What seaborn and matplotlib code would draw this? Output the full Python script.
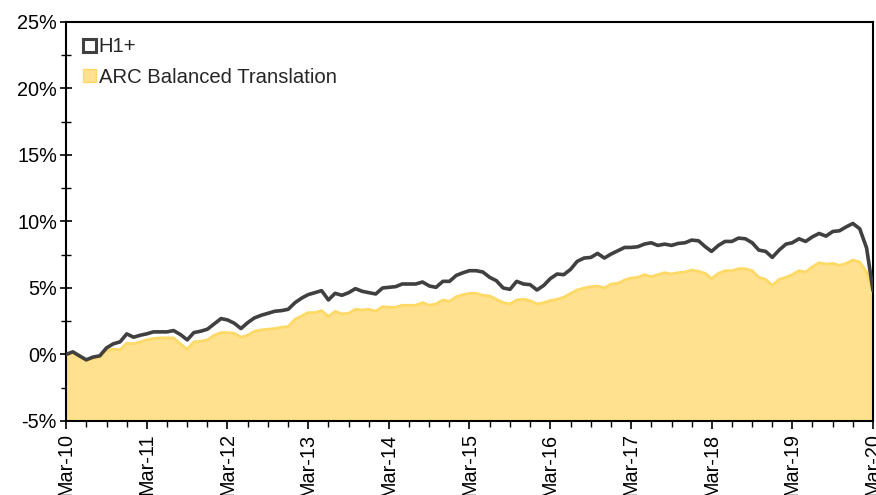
import pandas as pd
import matplotlib
matplotlib.use("Agg")
import matplotlib.pyplot as plt
import matplotlib.dates as mdates
from matplotlib.patches import Patch
from matplotlib.ticker import FuncFormatter, MultipleLocator
import seaborn as sns

# monthly cumulative returns (%), Mar-2010 .. Mar-2020
start_month = "2010-03-01"
h1_plus = [0.0, 0.2, -0.1, -0.4, -0.2, -0.1, 0.5, 0.8, 0.95, 1.55, 1.3, 1.45,
           1.55, 1.7, 1.7, 1.7, 1.8, 1.5, 1.1, 1.65, 1.75, 1.9, 2.3, 2.7,
           2.6, 2.35, 1.95, 2.4, 2.75, 2.95, 3.1, 3.25, 3.3, 3.4, 3.9, 4.25,
           4.5, 4.65, 4.8, 4.1, 4.6, 4.45, 4.65, 4.95, 4.75, 4.65, 4.55, 5.0,
           5.05, 5.1, 5.3, 5.3, 5.3, 5.45, 5.15, 5.05, 5.5, 5.5, 5.95, 6.15,
           6.3, 6.3, 6.2, 5.8, 5.55, 5.0, 4.9, 5.5, 5.3, 5.25, 4.85, 5.2,
           5.7, 6.05, 6.0, 6.4, 7.0, 7.25, 7.3, 7.6, 7.25, 7.55, 7.8, 8.05,
           8.05, 8.1, 8.3, 8.4, 8.2, 8.3, 8.2, 8.35, 8.4, 8.6, 8.55, 8.1,
           7.75, 8.2, 8.5, 8.5, 8.75, 8.7, 8.4, 7.85, 7.75, 7.3, 7.85, 8.3,
           8.4, 8.7, 8.5, 8.85, 9.1, 8.9, 9.25, 9.3, 9.6, 9.85, 9.45, 8.0, 4.8]
arc_balanced = [0.0, 0.1, -0.2, -0.45, -0.3, -0.2, 0.3, 0.4, 0.35, 0.85, 0.8, 0.95,
                1.1, 1.2, 1.25, 1.25, 1.25, 0.8, 0.4, 0.95, 1.0, 1.1, 1.45, 1.65,
                1.65, 1.6, 1.3, 1.45, 1.75, 1.85, 1.9, 1.95, 2.05, 2.1, 2.65, 2.9,
                3.15, 3.15, 3.3, 2.85, 3.25, 3.05, 3.1, 3.4, 3.35, 3.4, 3.25, 3.6,
                3.55, 3.55, 3.7, 3.7, 3.7, 3.9, 3.7, 3.8, 4.1, 4.0, 4.35, 4.5,
                4.6, 4.6, 4.45, 4.4, 4.15, 3.9, 3.8, 4.1, 4.15, 4.05, 3.8, 3.9,
                4.05, 4.15, 4.3, 4.6, 4.85, 5.0, 5.1, 5.15, 5.0, 5.3, 5.35, 5.6,
                5.75, 5.8, 6.0, 5.85, 6.0, 6.15, 6.05, 6.15, 6.2, 6.35, 6.25, 6.1,
                5.7, 6.1, 6.3, 6.3, 6.45, 6.45, 6.3, 5.8, 5.65, 5.2, 5.65, 5.8,
                6.0, 6.3, 6.2, 6.6, 6.9, 6.8, 6.85, 6.7, 6.85, 7.1, 6.95, 6.2, 4.7]
series_names = ["H1+", "ARC Balanced Translation"]

df = pd.DataFrame({
    "date": pd.date_range(start_month, periods=len(h1_plus), freq="MS"),
    "h1": h1_plus,
    "arc": arc_balanced,
})

sns.set_style("ticks")
plt.rcParams["font.family"] = ["Liberation Sans", "DejaVu Sans"]

fig = plt.figure(figsize=(8.76, 4.95), dpi=100)
ax = fig.add_axes([0.0753, 0.1495, 0.9213, 0.8061])

ymin = -5
ax.fill_between(df["date"], ymin, df["arc"], color="#FFE18F", lw=0, zorder=1)
sns.lineplot(data=df, x="date", y="arc", ax=ax, color="#FFD966", lw=2, zorder=2)
sns.lineplot(data=df, x="date", y="h1", ax=ax, color="#404040", lw=2.6, zorder=3)

ax.set_xlim(df["date"].iloc[0], df["date"].iloc[-1])
ax.set_ylim(ymin, 25)
ax.set_xlabel("")
ax.set_ylabel("")

ax.yaxis.set_major_locator(MultipleLocator(5))
ax.yaxis.set_minor_locator(MultipleLocator(2.5))
ax.yaxis.set_major_formatter(FuncFormatter(lambda v, p: f"{v:.0f}%"))
ax.xaxis.set_major_locator(mdates.MonthLocator(bymonth=3))
ax.xaxis.set_minor_locator(mdates.MonthLocator(bymonth=[3, 6, 9, 12]))
ax.xaxis.set_major_formatter(mdates.DateFormatter("%b-%y"))

ax.tick_params(axis="both", which="major", labelsize=14.3, width=1.2,
               color="black", labelcolor="black")
ax.tick_params(axis="x", which="major", length=6, pad=3)
ax.tick_params(axis="x", which="minor", length=4, width=1.0, color="black")
ax.tick_params(axis="y", which="major", direction="inout", length=8, pad=2.5)
ax.tick_params(axis="y", which="minor", direction="inout", length=7, width=1.0,
               color="black")
plt.setp(ax.get_xticklabels(), rotation=90, va="top", ha="center")

for side in ["left", "bottom", "top", "right"]:
    ax.spines[side].set_visible(True)
    ax.spines[side].set_color("black")
    ax.spines[side].set_linewidth(1.5)

handles = [Patch(facecolor="white", edgecolor="#404040", lw=2.2),
           Patch(facecolor="#FFE18F", edgecolor="#FFD966", lw=1)]
ax.legend(handles, series_names, loc="upper left", bbox_to_anchor=(0.004, 0.997),
          frameon=False, fontsize=14.6, handlelength=0.6, handleheight=0.6,
          handletextpad=0.15, labelspacing=0.55, borderaxespad=0.3)

fig.savefig("out.png", dpi=100)
